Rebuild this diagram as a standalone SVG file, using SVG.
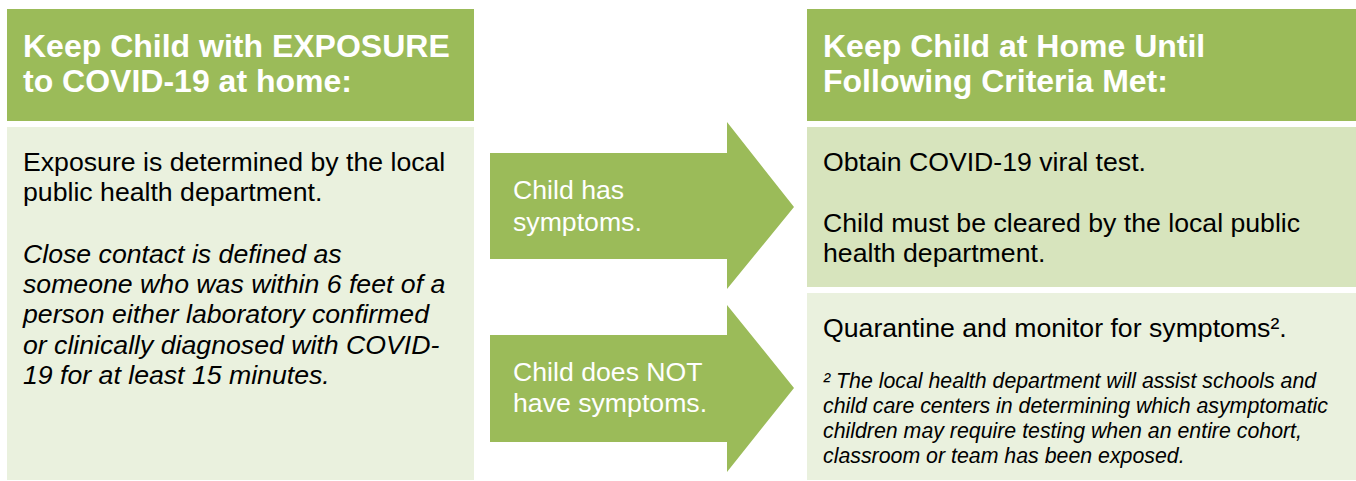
<svg xmlns="http://www.w3.org/2000/svg" width="1356" height="481" viewBox="0 0 1356 481">
  <style>
    .hdr { fill: #9BBB59; }
    .light { fill: #EAF1DE; }
    .mid { fill: #D7E4BD; }
    .arrow { fill: #9BBB59; }
    .htxt { font-family: "Liberation Sans", Arial, sans-serif; font-weight: bold; font-size: 32px; fill: #FFFFFF; }
    .btxt { font-family: "Liberation Sans", Arial, sans-serif; font-size: 26.67px; fill: #000000; }
    .itxt { font-family: "Liberation Sans", Arial, sans-serif; font-size: 26.67px; font-style: italic; fill: #000000; }
    .atxt { font-family: "Liberation Sans", Arial, sans-serif; font-size: 26.67px; fill: #FFFFFF; }
    .ftxt { font-family: "Liberation Sans", Arial, sans-serif; font-size: 21.33px; font-style: italic; fill: #000000; }
  </style>
  <rect width="1356" height="481" fill="#FFFFFF"/>

  <g id="left-header">
    <rect class="hdr" x="7" y="9" width="467" height="112"/>
    <text class="htxt" x="23" y="57">Keep Child with EXPOSURE</text>
    <text class="htxt" x="23" y="92">to COVID-19 at home:</text>
  </g>

  <g id="left-body">
    <rect class="light" x="7" y="127" width="467" height="353"/>
    <text class="btxt" x="23" y="171">Exposure is determined by the local</text>
    <text class="btxt" x="23" y="201">public health department.</text>
    <text class="itxt" x="23" y="263">Close contact is defined as</text>
    <text class="itxt" x="23" y="293">someone who was within 6 feet of a</text>
    <text class="itxt" x="23" y="323">person either laboratory confirmed</text>
    <text class="itxt" x="23" y="354">or clinically diagnosed with COVID-</text>
    <text class="itxt" x="23" y="384">19 for at least 15 minutes.</text>
  </g>

  <g id="connectors">
    <g id="arrow-symptoms">
      <polygon class="arrow" points="490,153 727,153 727,122 794,207 727,289 727,259 490,259"/>
      <text class="atxt" x="513" y="199">Child has</text>
      <text class="atxt" x="513" y="231">symptoms.</text>
    </g>
    <g id="arrow-no-symptoms">
      <polygon class="arrow" points="490,335 727,335 727,305 794,388 727,472 727,442 490,442"/>
      <text class="atxt" x="513" y="381">Child does NOT</text>
      <text class="atxt" x="513" y="412">have symptoms.</text>
    </g>
  </g>

  <g id="right-header">
    <rect class="hdr" x="807" y="9" width="549" height="112"/>
    <text class="htxt" x="823" y="57">Keep Child at Home Until</text>
    <text class="htxt" x="823" y="92">Following Criteria Met:</text>
  </g>

  <g id="right-symptoms">
    <rect class="mid" x="807" y="127" width="549" height="160"/>
    <text class="btxt" x="823" y="171">Obtain COVID-19 viral test.</text>
    <text class="btxt" x="823" y="232">Child must be cleared by the local public</text>
    <text class="btxt" x="823" y="262">health department.</text>
  </g>

  <g id="right-no-symptoms">
    <rect class="light" x="807" y="293" width="549" height="187"/>
    <text class="btxt" x="823" y="337">Quarantine and monitor for symptoms².</text>
    <text class="ftxt" x="823" y="388">² The local health department will assist schools and</text>
    <text class="ftxt" x="823" y="413">child care centers in determining which asymptomatic</text>
    <text class="ftxt" x="823" y="438">children may require testing when an entire cohort,</text>
    <text class="ftxt" x="823" y="463">classroom or team has been exposed.</text>
  </g>
</svg>
